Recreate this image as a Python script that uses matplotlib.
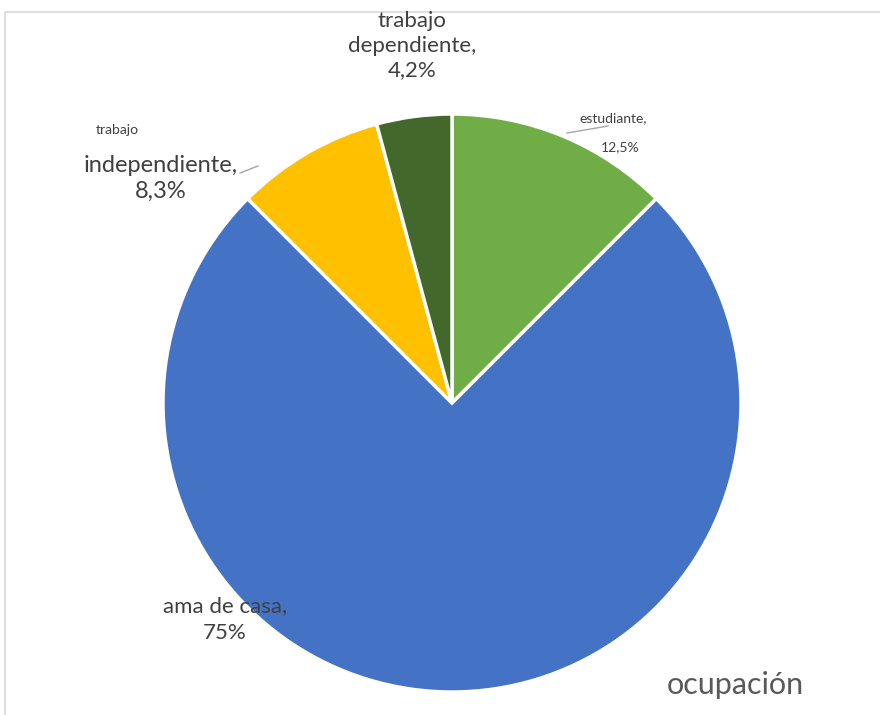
import matplotlib.pyplot as plt
import matplotlib

matplotlib.rcParams['font.family'] = ['Lato', 'DejaVu Sans']

# ocupación de las encuestadas
categorias = ['estudiante', 'ama de casa', 'trabajo independiente', 'trabajo dependiente']
porcentajes = [12.5, 75, 8.3, 4.2]
colores = ['#70AD47', '#4472C4', '#FFC000', '#43682B']

W, H = 880, 715
fig = plt.figure(figsize=(8.8, 7.15), dpi=100)
ax = fig.add_axes([0, 0, 1, 1])


def py(y):
    # coordenada de pantalla (desde arriba) a coordenada del eje
    return H - y


ax.pie(porcentajes, colors=colores, startangle=90, counterclock=False,
       center=(452, py(403)), radius=289, frame=True,
       wedgeprops=dict(edgecolor='white', linewidth=2.5))
ax.set_xlim(0, W)
ax.set_ylim(0, H)
ax.set_aspect('equal')
ax.axis('off')

# marco del gráfico
ax.plot([5, 5, W], [0, py(12), py(12)], color='#d9d9d9', lw=1.2)

gris = '#404040'
ax.text(412, py(21), 'trabajo', ha='center', va='center', fontsize=16, color=gris)
ax.text(412, py(46), 'dependiente,', ha='center', va='center', fontsize=16, color=gris)
ax.text(412, py(70), '4,2%', ha='center', va='center', fontsize=16, color=gris)

ax.text(117, py(130), 'trabajo', ha='center', va='center', fontsize=10, color=gris)
ax.text(161, py(166), 'independiente,', ha='center', va='center', fontsize=17, color=gris)
ax.text(161, py(191), '8,3%', ha='center', va='center', fontsize=17, color=gris)
ax.plot([240, 258], [py(173), py(166)], color='#a6a6a6', lw=1)

ax.text(613, py(118), 'estudiante,', ha='center', va='center', fontsize=10, color=gris)
ax.text(620, py(147), '12,5%', ha='center', va='center', fontsize=10, color=gris)
ax.plot([567, 608], [py(133), py(126)], color='#a6a6a6', lw=1)

ax.text(225, py(606), 'ama de casa,', ha='center', va='center', fontsize=16, color=gris)
ax.text(225, py(633), '75%', ha='center', va='center', fontsize=16, color=gris)

ax.text(735, py(685), 'ocupación', ha='center', va='center', fontsize=22, color='#595959')

fig.savefig('out.png', dpi=100)
